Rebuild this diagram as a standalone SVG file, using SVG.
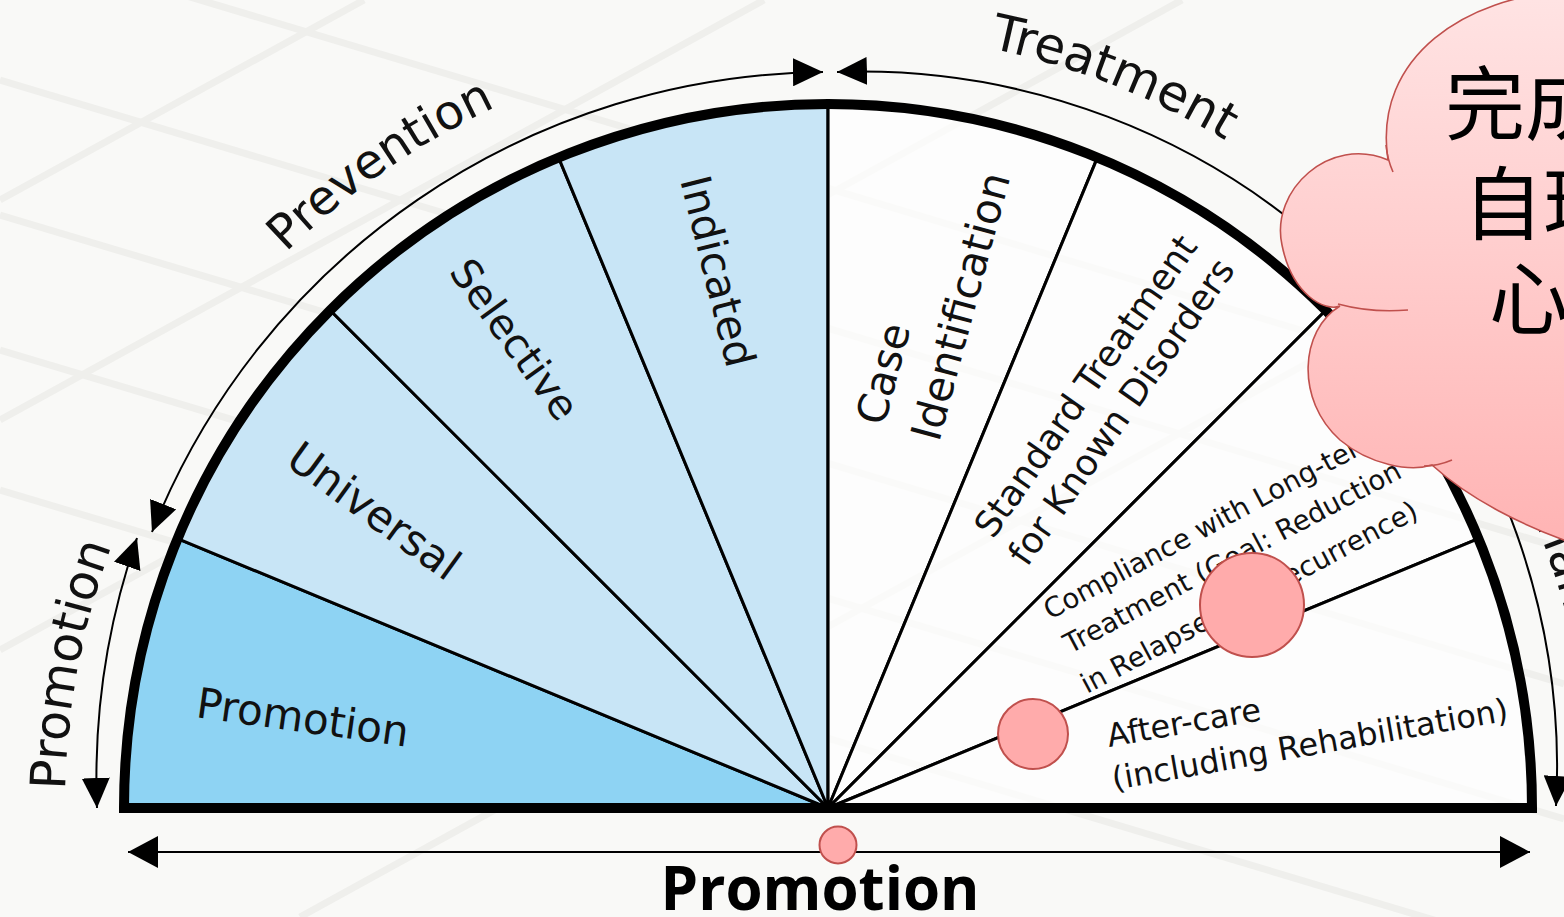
<svg xmlns="http://www.w3.org/2000/svg" width="1564" height="917" viewBox="0 0 1564 917">
<defs>
<style>
.lbl{font-family:"DejaVu Sans",Verdana,sans-serif;fill:#111;}
.sec{stroke:#000;stroke-width:3;stroke-linejoin:round;}
.blue1{fill:#8ED3F3;}
.blue2{fill:#C8E5F6;}
.wht{fill:#FFFFFF;fill-opacity:0.7;}
.arrow{fill:none;stroke:#000;stroke-width:2;}
.dot{fill:#FFABAB;stroke:#C0504D;stroke-width:2;}
.grid{stroke:#EFEFEC;stroke-width:7;fill:none;}
.cjk{font-family:"Noto Sans CJK TC","Noto Sans CJK SC",sans-serif;font-size:80px;fill:#000;}
.cloudline{fill:none;stroke:#C0504D;stroke-width:1.6;}
</style>
<marker id="ah" viewBox="0 0 30 28" refX="30" refY="14" markerWidth="30" markerHeight="28" markerUnits="userSpaceOnUse" orient="auto-start-reverse"><path d="M0,0 L30,14 L0,28 Z" fill="#000"/></marker>
<marker id="ahb" viewBox="0 0 30 32" refX="30" refY="16" markerWidth="30" markerHeight="32" markerUnits="userSpaceOnUse" orient="auto-start-reverse"><path d="M0,0 L30,16 L0,32 Z" fill="#000"/></marker>
<linearGradient id="cloudGrad" x1="0" y1="0" x2="0" y2="550" gradientUnits="userSpaceOnUse"><stop offset="0" stop-color="#FFE3E3"/><stop offset="1" stop-color="#FFB3B3"/></linearGradient>
<path id="pPrev" d="M 286 252.6 A 776 776 0 0 1 828 32"/>
<path id="pTreat" d="M 989.5 48 A 777 777 0 0 1 1423.2 308.6"/>
<path id="pPromL" d="M 65.2 790 A 763 763 0 0 1 203 370.4"/>
<path id="pMaint" d="M 1367.5 268.5 A 763 763 0 0 1 1591 808"/>
</defs>

<g id="background">
<rect x="0" y="0" width="1564" height="917" fill="#F9F9F7"/>
<path class="grid" d="M0 -60 L1564 409 M0 80 L1564 549 M0 215 L1564 684 M0 350 L1564 819 M0 490 L1564 959"/>
<path class="grid" d="M0 200 L364 0 M0 420 L764 0 M0 650 L1182 0 M300 917 L1564 222"/>
</g>

<g id="sector-promotion">
<path class="sec blue1" d="M 828 808 L 124 808 A 704 704 0 0 1 177.6 538.6 Z"/>
<text class="lbl" font-size="42" transform="translate(195,717) rotate(8)">Promotion</text>
</g>
<g id="sector-universal">
<path class="sec blue2" d="M 828 808 L 177.6 538.6 A 704 704 0 0 1 330.2 310.2 Z"/>
<text class="lbl" font-size="43" transform="translate(284,464) rotate(36)">Universal</text>
</g>
<g id="sector-selective">
<path class="sec blue2" d="M 828 808 L 330.2 310.2 A 704 704 0 0 1 558.6 157.6 Z"/>
<text class="lbl" font-size="41" transform="translate(448,272) rotate(54)">Selective</text>
</g>
<g id="sector-indicated">
<path class="sec blue2" d="M 828 808 L 558.6 157.6 A 704 704 0 0 1 828 104 Z"/>
<text class="lbl" font-size="42" transform="translate(680,180) rotate(76)">Indicated</text>
</g>
<g id="sector-case">
<path class="sec wht" d="M 828 808 L 828 104 A 704 704 0 0 1 1097.4 157.6 Z"/>
<text class="lbl" font-size="42" transform="translate(884,427) rotate(-75)">Case</text>
<text class="lbl" font-size="42" transform="translate(939,443) rotate(-75)">Identification</text>
</g>
<g id="sector-standard">
<path class="sec wht" d="M 828 808 L 1097.4 157.6 A 704 704 0 0 1 1325.8 310.2 Z"/>
<text class="lbl" font-size="36" transform="translate(993,540) rotate(-55)">Standard Treatment</text>
<text class="lbl" font-size="36" transform="translate(1027,568) rotate(-55)">for Known Disorders</text>
</g>
<g id="sector-compliance">
<path class="sec wht" d="M 828 808 L 1325.8 310.2 A 704 704 0 0 1 1478.4 538.6 Z"/>
<text class="lbl" font-size="27.5" transform="translate(1050,620) rotate(-28)">Compliance with Long-term</text>
<text class="lbl" font-size="27.5" transform="translate(1070,654) rotate(-28)">Treatment (Goal: Reduction</text>
<text class="lbl" font-size="27.5" transform="translate(1087,694) rotate(-28)">in Relapse and Recurrence)</text>
</g>
<g id="sector-aftercare">
<path class="sec wht" d="M 828 808 L 1478.4 538.6 A 704 704 0 0 1 1532 808 Z"/>
<text class="lbl" font-size="32" transform="translate(1109,747) rotate(-10)">After-care</text>
<text class="lbl" font-size="32" transform="translate(1114,790) rotate(-10)">(including Rehabilitation)</text>
</g>
<g id="outline">
<path d="M 124 808 A 704 704 0 0 1 1532 808 Z" fill="none" stroke="#000" stroke-width="10" stroke-linejoin="miter"/>
</g>

<g id="connectors">
<path class="arrow" d="M 823 72 A 730 730 0 0 0 152 532" marker-start="url(#ah)" marker-end="url(#ah)"/>
<path class="arrow" d="M 137 538 A 735 735 0 0 0 97 808" marker-start="url(#ah)" marker-end="url(#ah)"/>
<path class="arrow" d="M 837 72 A 696 696 0 0 1 1556 806" marker-start="url(#ah)" marker-end="url(#ah)"/>
<path class="arrow" d="M 128 852 L 1530 852" stroke-width="2.5" marker-start="url(#ahb)" marker-end="url(#ahb)"/>
</g>

<g id="outer-labels">
<text class="lbl" font-size="48"><textPath href="#pPrev">Prevention</textPath></text>
<text class="lbl" font-size="50"><textPath href="#pTreat">Treatment</textPath></text>
<text class="lbl" font-size="49"><textPath href="#pPromL">Promotion</textPath></text>
<text class="lbl" font-size="49" text-anchor="middle"><textPath href="#pMaint" startOffset="50%">Maintenance</textPath></text>
<text x="820" y="910" font-family="'Open Sans','Liberation Sans',sans-serif" font-weight="700" font-size="60" text-anchor="middle" fill="#000">Promotion</text>
</g>

<g id="markers-dots">
<circle class="dot" cx="1252" cy="605" r="52"/>
<circle class="dot" cx="1033" cy="734" r="35"/>
<circle class="dot" cx="838" cy="845" r="18.5"/>
</g>

<g id="cloud">
<path d="M 1600 -10 L 1564 -8 C 1470 -4 1372 55 1388 160 C 1330 135 1270 190 1282 245 C 1292 295 1325 312 1340 306 C 1300 330 1295 400 1340 440 C 1370 465 1410 472 1432 465 C 1465 495 1520 528 1600 552 Z" fill="url(#cloudGrad)" stroke="#C0504D" stroke-width="1.6"/>
<path class="cloudline" d="M 1386 145 C 1387 155 1389 163 1393 172"/>
<path class="cloudline" d="M 1338 304 C 1360 310 1385 312 1408 310"/>
<path class="cloudline" d="M 1424 466 C 1435 466 1445 463 1452 460"/>
<text class="cjk" x="1445" y="133">完成</text>
<text class="cjk" x="1463" y="233">自理</text>
<text class="cjk" x="1489" y="328">心</text>
</g>
</svg>
